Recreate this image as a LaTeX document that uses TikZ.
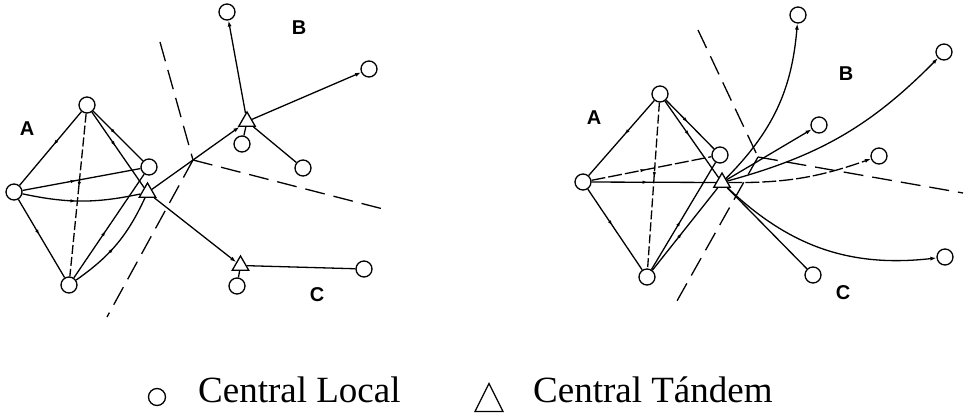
\documentclass[tikz,border=0pt]{standalone}
\usepackage{fontspec}
\setmainfont{Liberation Serif}
\setsansfont{Liberation Sans}
\usetikzlibrary{shapes.geometric,arrows.meta,decorations.markings}
\begin{document}
\begin{tikzpicture}[x=1pt,y=1pt,
  loc/.style={circle,draw,line width=1.3pt,minimum size=16pt,inner sep=0pt},
  tan/.style={regular polygon,regular polygon sides=3,draw,line width=1.3pt,minimum size=19pt,inner sep=0pt},
  lnk/.style={line width=1.3pt},
  dashA/.style={dash pattern=on 9pt off 3pt},
  dashB/.style={dash pattern=on 14pt off 3pt},
  bound/.style={line width=1.3pt,dash pattern=on 20pt off 9pt},
  midarr/.style={postaction={decorate},decoration={markings,mark=at position 0.45 with {\arrow{Latex[length=5pt,width=3.5pt]}}}},
  endarr/.style={-{Latex[length=6pt,width=4pt]}},
  lab/.style={font=\sffamily\bfseries\fontsize{20}{21}\selectfont,inner sep=0pt},
  leg/.style={font=\fontsize{37}{40}\selectfont,inner sep=0pt,anchor=base west}]
\useasboundingbox (0,-417) rectangle (964,0);
% ---------- left diagram ----------
\node[loc] (LT) at (87,-105) {};
\node[loc] (LL) at (14,-192) {};
\node[loc] (LB) at (69,-285) {};
\node[loc] (LR) at (149,-167) {};
\node[tan] (T1) at (147.5,-192.5) {};
\node[tan] (TB) at (247,-121.5) {};
\node[tan] (TC) at (240.5,-265.5) {};
\node[loc] (B1) at (227,-12) {};
\node[loc] (B2) at (369,-69) {};
\node[loc] (B3) at (303,-168) {};
\node[loc] (B4) at (242,-144) {};
\node[loc] (C1) at (237,-286) {};
\node[loc] (C2) at (364,-269) {};
\node[lab] (lA1) at (27,-129) {A};
\node[lab] (lB1) at (299,-28) {B};
\node[lab] (lC1) at (317,-295) {C};
\coordinate (J1) at (193,-160);
\coordinate (J1a) at (160,-42);
\coordinate (J1b) at (107,-317);
\coordinate (J1c) at (387,-210);
\draw[bound] (J1a) -- (J1);
\draw[bound] (J1) -- (J1b);
\draw[bound] (J1) -- (J1c);
\draw[lnk,midarr] (LT) -- (LL);
\draw[lnk,midarr] (LL) -- (LB);
\draw[lnk,dashA,midarr] (LT) -- (LB);
\draw[lnk,midarr] (LT) -- (LR);
\draw[lnk,midarr] (LT) -- (T1);
\draw[lnk,midarr] (LL) -- (LR);
\draw[lnk,midarr] (LL) to[bend right=12] (T1);
\draw[lnk,midarr] (LB) -- (LR);
\draw[lnk,midarr] (LB) to[bend right=15] (T1);
\draw[lnk,endarr] (T1) -- (TB);
\draw[lnk,endarr] (T1) -- (TC);
\draw[lnk,endarr] (TB) -- (B1);
\draw[lnk,endarr] (TB) -- (B2);
\draw[lnk] (TB) -- (B3);
\draw[lnk] (TB) -- (B4);
\draw[lnk] (TC) -- (C1);
\draw[lnk] (TC) -- (C2);
% ---------- right diagram ----------
\node[loc] (RT) at (660,-94) {};
\node[loc] (RL) at (583,-182) {};
\node[loc] (RB) at (647,-277) {};
\node[loc] (RR) at (720,-155) {};
\node[tan] (RX) at (722,-182.5) {};
\node[loc] (O1) at (798,-15) {};
\node[loc] (O2) at (944,-52) {};
\node[loc] (O3) at (819,-125) {};
\node[loc] (O4) at (879,-156) {};
\node[loc] (O5) at (945,-257) {};
\node[loc] (O6) at (813,-275) {};
\node[lab] (lA2) at (594,-118) {A};
\node[lab] (lB2) at (846,-74) {B};
\node[lab] (lC2) at (843,-293) {C};
\coordinate (J2) at (758,-157);
\coordinate (J2a) at (698,-30);
\coordinate (J2b) at (673,-308);
\coordinate (J2c) at (963,-193);
\draw[bound] (J2a) -- (J2);
\draw[bound] (J2) -- (J2b);
\draw[bound] (J2) -- (J2c);
\draw[lnk,midarr] (RT) -- (RL);
\draw[lnk,midarr] (RL) -- (RB);
\draw[lnk,dashA,midarr] (RT) -- (RB);
\draw[lnk,midarr] (RT) -- (RR);
\draw[lnk,midarr] (RT) -- (RX);
\draw[lnk,dashB,midarr] (RL) -- (RR);
\draw[lnk,midarr] (RL) -- (RX);
\draw[lnk,midarr] (RB) -- (RR);
\draw[lnk,midarr] (RB) -- (RX);
\draw[lnk,endarr] (RX) to[bend right=20] (O1);
\draw[lnk,endarr] (RX) to[bend right=15] (O2);
\draw[lnk,endarr] (RX) -- (O3);
\draw[lnk,dashB,endarr] (RX) to[bend right=10] (O4);
\draw[lnk,endarr] (RX) to[bend right=25] (O5);
\draw[lnk] (RX) -- (O6);
% ---------- legend ----------
\node[loc,minimum size=17pt] (legC) at (157,-397) {};
\node[leg] (legT1) at (198,-402) {Central Local};
\draw[line width=1.3pt,line join=miter] (475,-411.5) -- (489,-383.5) -- (503,-411.5) -- cycle;
\node[leg] (legT2) at (533,-402) {Central Tándem};
\end{tikzpicture}
\end{document}
